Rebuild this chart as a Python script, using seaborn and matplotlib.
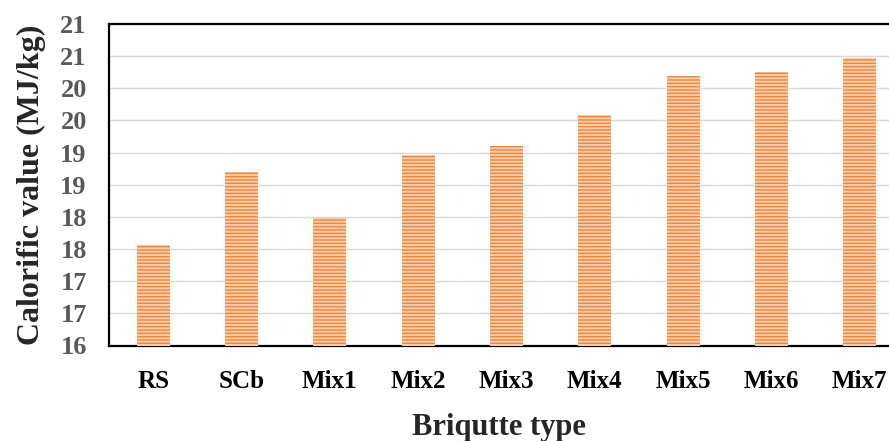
import math
import matplotlib
matplotlib.use("Agg")
import matplotlib.pyplot as plt
from matplotlib.ticker import FuncFormatter, MultipleLocator
import seaborn as sns
import pandas as pd

# Calorific value of each briquette type (MJ/kg)
briquette_types = ["RS", "SCb", "Mix1", "Mix2", "Mix3", "Mix4", "Mix5", "Mix6", "Mix7"]
calorific_values = [17.56, 18.70, 17.99, 18.96, 19.10, 19.58, 20.19, 20.26, 20.47]

df = pd.DataFrame({"Briquette type": briquette_types, "Calorific value": calorific_values})

sns.set_theme(style="white")
plt.rcParams["font.family"] = ["Liberation Serif", "DejaVu Serif"]
plt.rcParams["hatch.linewidth"] = 1.4

fig = plt.figure(figsize=(8.89, 4.41), dpi=100)
ax = fig.add_axes([109 / 889, 1 - 345.5 / 441, 1 - 109 / 889, (345.5 - 24) / 441])

sns.barplot(data=df, x="Briquette type", y="Calorific value", color="#EF8A45",
            width=0.375, ax=ax, zorder=3)

for bar in ax.patches:
    bar.set_facecolor("#EE8640")
    bar.set_edgecolor("#F9CDA8")
    bar.set_linewidth(0)
    bar.set_hatch("-----")

ax.set_ylim(16, 21)
ax.set_xlim(-0.5, 8.33)
ax.yaxis.set_major_locator(MultipleLocator(0.5))
# Excel-style integer labels (half rounds up)
ax.yaxis.set_major_formatter(FuncFormatter(lambda v, p: f"{math.floor(v + 0.5):d}"))
ax.grid(axis="y", color="#D9D9D9", linewidth=1.0, zorder=0)
ax.set_axisbelow(True)

for side in ("left", "bottom", "top"):
    ax.spines[side].set_visible(True)
    ax.spines[side].set_color("black")
    ax.spines[side].set_linewidth(1.6)
ax.spines["right"].set_visible(False)

ax.tick_params(axis="y", length=0, pad=16, labelsize=19, labelcolor="#595959")
ax.tick_params(axis="x", length=0, pad=18, labelsize=18, labelcolor="black")
for lab in ax.get_yticklabels() + ax.get_xticklabels():
    lab.set_fontweight("bold")

ax.set_xlabel("Briqutte type", fontsize=22, fontweight="bold", labelpad=14)
ax.set_ylabel("Calorific value (MJ/kg)", fontsize=23, fontweight="bold", labelpad=10)

fig.savefig("out.png", dpi=100)
